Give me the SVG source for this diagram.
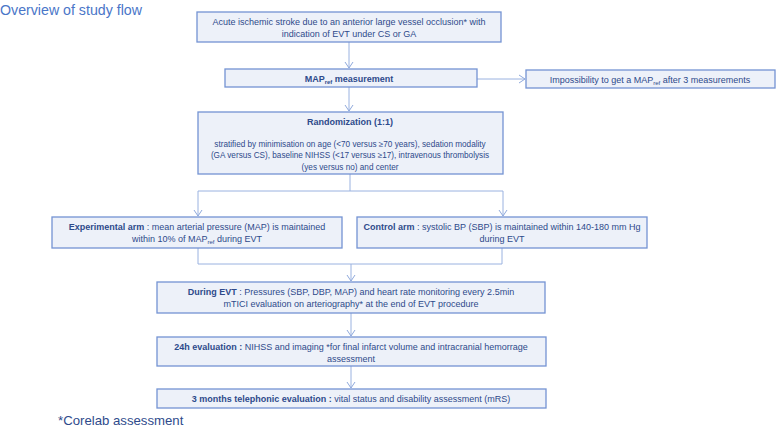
<svg xmlns="http://www.w3.org/2000/svg" width="777" height="426" viewBox="0 0 777 426">
<defs>
<marker id="ah" markerWidth="10" markerHeight="10" refX="8" refY="5" orient="auto" markerUnits="userSpaceOnUse">
<path d="M2,1 L8,5 L2,9" fill="none" stroke="#8FA9DC" stroke-width="1"/>
</marker>
<style>
.box{fill:#EDF1F9;stroke:#7393D3;stroke-width:1.3}
.t{font-family:"Liberation Sans",Arial,sans-serif;font-size:9px;fill:#2E4A8B;text-anchor:middle}
.s{font-size:8.2px}
.b{font-weight:bold}
.c{fill:none;stroke:#9AB2E0;stroke-width:1}
</style>
</defs>
<rect width="777" height="426" fill="#ffffff"/>
<text x="0" y="15" style="font-family:'Liberation Sans',Arial,sans-serif;font-size:14.2px;fill:#4A76C8">Overview of study flow</text>

<g id="connectors">
<path class="c" d="M349,42 V68" marker-end="url(#ah)"/>
<path class="c" d="M477,79 H525" marker-end="url(#ah)"/>
<path class="c" d="M349,87 V111" marker-end="url(#ah)"/>
<path class="c" d="M350,174 V191 M198,191 H503"/>
<path class="c" d="M198,191 V216" marker-end="url(#ah)"/>
<path class="c" d="M503,191 V216" marker-end="url(#ah)"/>
<path class="c" d="M198,248 V264 H502 V248"/>
<path class="c" d="M351,264 V281" marker-end="url(#ah)"/>
<path class="c" d="M351,313 V336" marker-end="url(#ah)"/>
<path class="c" d="M351,366 V388" marker-end="url(#ah)"/>
</g>

<g id="inclusion">
<rect class="box" x="197" y="12" width="304" height="30"/>
<text class="t" x="349" y="24.5">Acute ischemic stroke due to an anterior large vessel occlusion* with</text>
<text class="t" x="349" y="36.5">indication of EVT under CS or GA</text>
</g>

<g id="mapref">
<rect class="box" x="225" y="69" width="252" height="18"/>
<text class="t b" x="349" y="81.5">MAP<tspan font-size="6" dy="2">ref</tspan><tspan dy="-2"> measurement</tspan></text>
</g>

<g id="impossibility">
<rect class="box" x="526" y="70" width="249" height="18"/>
<text class="t" x="650" y="82.5">Impossibility to get a MAP<tspan font-size="6" dy="2">ref</tspan><tspan dy="-2"> after 3 measurements</tspan></text>
</g>

<g id="randomization">
<rect class="box" x="198" y="112" width="305" height="62"/>
<text class="t b" x="350" y="124.5">Randomization (1:1)</text>
<text class="t s" x="350" y="146.5">stratified by minimisation on age (&lt;70 versus ≥70 years), sedation modality</text>
<text class="t s" x="350" y="158">(GA versus CS), baseline NIHSS (&lt;17 versus ≥17), intravenous thrombolysis</text>
<text class="t s" x="350" y="169.5">(yes versus no) and center</text>
</g>

<g id="experimental">
<rect class="box" x="52" y="217" width="290" height="31"/>
<text class="t" x="197" y="229.5"><tspan class="b">Experimental arm</tspan> : mean arterial pressure (MAP) is maintained</text>
<text class="t" x="197" y="241.5">within 10% of MAP<tspan font-size="6" dy="2">ref</tspan><tspan dy="-2"> during EVT</tspan></text>
</g>

<g id="control">
<rect class="box" x="357" y="217" width="290" height="31"/>
<text class="t" x="502" y="229.5"><tspan class="b">Control arm</tspan> : systolic BP (SBP) is maintained within 140-180 mm Hg</text>
<text class="t" x="502" y="241.5">during EVT</text>
</g>

<g id="during">
<rect class="box" x="157" y="282" width="388" height="31"/>
<text class="t" x="351" y="295"><tspan class="b">During EVT</tspan> : Pressures (SBP, DBP, MAP) and heart rate monitoring every 2.5min</text>
<text class="t" x="351" y="307">mTICI evaluation on arteriography* at the end of EVT procedure</text>
</g>

<g id="eval24h">
<rect class="box" x="157" y="337" width="389" height="29"/>
<text class="t" x="351" y="349.5"><tspan class="b">24h evaluation :</tspan> NIHSS and imaging *for final infarct volume and intracranial hemorrage</text>
<text class="t" x="351" y="361.5">assessment</text>
</g>

<g id="eval3m">
<rect class="box" x="157" y="389" width="389" height="19"/>
<text class="t" x="351" y="402"><tspan class="b">3 months telephonic evaluation :</tspan> vital status and disability assessment (mRS)</text>
</g>

<text x="58" y="424.5" style="font-family:'Liberation Sans',Arial,sans-serif;font-size:13.2px;fill:#2E4A8B">*Corelab assessment</text>
</svg>
